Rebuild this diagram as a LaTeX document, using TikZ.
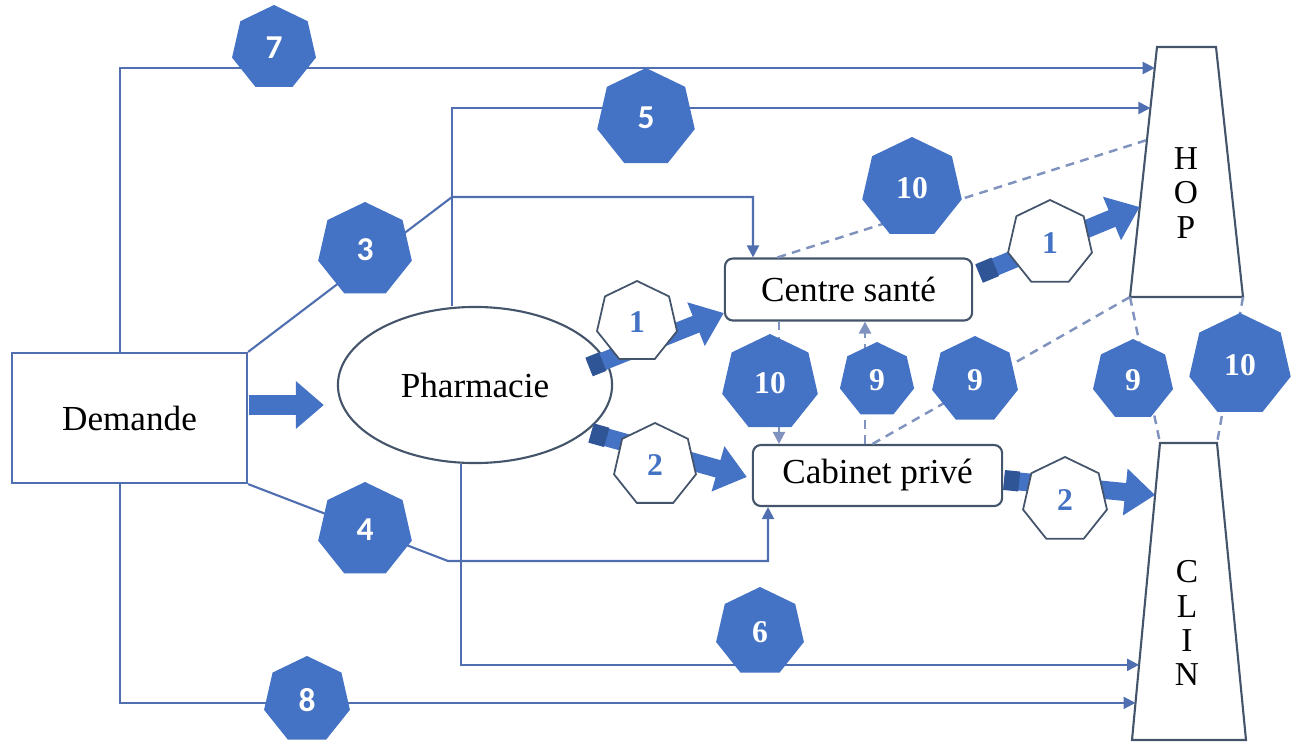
\documentclass[tikz,border=0pt]{standalone}
\usepackage{fontspec}
\setmainfont{Liberation Serif}
\newfontfamily\carlito{Carlito}
\usepackage{xcolor}
\definecolor{FlowBlue}{HTML}{4472C4}
\definecolor{FlowDark}{HTML}{2F5597}
\definecolor{FlowLine}{HTML}{4F6FB0}
\definecolor{FlowDash}{HTML}{8093BE}
\definecolor{FlowEdge}{HTML}{44546A}
\usepackage{tikz}
\usetikzlibrary{calc, positioning, arrows.meta, shapes.geometric}

\begin{document}
\begin{tikzpicture}[
    x=0.01cm, y=-0.01cm,
    font=\fontsize{10}{12}\selectfont,
    >={Triangle[length=0.12cm, width=0.12cm]},
    box_plain/.style={draw=FlowLine, line width=0.6pt, minimum width=2.35cm, minimum height=1.3cm},
    box_round/.style={draw=FlowEdge, line width=0.6pt, rounded corners=0.08cm},
    tower/.style={draw=FlowEdge, line width=0.6pt},
    tower_text/.style={align=center, font=\fontsize{9.5}{9.7}\selectfont},
    hepta/.style={regular polygon, regular polygon sides=7, inner sep=0pt, fill=FlowBlue, text=white, font=\bfseries\fontsize{9}{10}\selectfont},
    hepta_sans/.style={hepta, font=\carlito\bfseries\fontsize{9.5}{10}\selectfont},
    hepta_white/.style={hepta, fill=white, draw=FlowEdge, line width=0.5pt, text=FlowBlue},
    link/.style={->, FlowLine, line width=0.6pt},
    link_dash/.style={FlowDash, line width=0.7pt, dash pattern=on 2.5pt off 1.8pt},
    fat/.style={FlowBlue, line width=0.18cm, -{Triangle[length=0.3cm, width=0.45cm]}},
    fat_tail/.style={FlowDark, line width=0.2cm}
]
    \useasboundingbox (0,0) rectangle (1297,742);

    % 1. MAIN NODES
    \node[box_plain] (dem) at (129.5,418) {Demande};
    \node[draw=FlowEdge, line width=0.6pt, ellipse, minimum width=2.74cm, minimum height=1.56cm] (ph) at (475,385) {Pharmacie};
    \node[box_round, minimum width=2.47cm, minimum height=0.62cm] (cs) at (848.5,289.5) {Centre santé};
    \node[box_round, minimum width=2.49cm, minimum height=0.61cm] (cp) at (877.5,475.5) {Cabinet privé};

    % 2. HOSPITAL / CLINIC TOWERS
    \coordinate (hopTL) at (1157,47);
    \coordinate (hopTR) at (1216,47);
    \coordinate (hopBR) at (1243,297);
    \coordinate (hopBL) at (1130,297);
    \draw[tower] (hopTL) -- (hopTR) -- (hopBR) -- (hopBL) -- cycle;
    \node[tower_text] (hoptxt) at (1186,193) {H\\O\\P};
    \coordinate (clinTL) at (1160,443);
    \coordinate (clinTR) at (1217,443);
    \coordinate (clinBR) at (1246,740);
    \coordinate (clinBL) at (1132,740);
    \draw[tower] (clinTL) -- (clinTR) -- (clinBR) -- (clinBL) -- cycle;
    \node[tower_text] (clintxt) at (1187,623) {C\\L\\I\\N};

    % 3. THIN LINKS (3 to 8)
    \draw[link] ($(dem.north)+(-9.5,0)$) |- ($(hopTL)!0.084!(hopBL)$);
    \draw[link] ($(ph.north)+(-23,0)$) |- ($(hopTL)!0.244!(hopBL)$);
    \draw[link] (dem.north east) -- (452,197) -| ($(cs.north)+(-95.5,0)$);
    \draw[link] (dem.south east) -- (448,561) -| ($(cp.south)+(-109.5,0)$);
    \draw[link] ($(ph.south)+(-14,0)$) |- ($(clinTL)!0.747!(clinBL)$);
    \draw[link] ($(dem.south)+(-9.5,0)$) |- ($(clinTL)!0.875!(clinBL)$);

    % 4. DASHED LINKS (9 and 10)
    \draw[link_dash] ($(cs.north)+(-71,0)$) -- ($(hopTL)!0.372!(hopBL)$);
    \draw[link_dash, ->] ($(cs.south)+(-69.5,0)$) -- ($(cp.north)+(-98.5,0)$);
    \draw[link_dash, ->] ($(cp.north)+(-12.5,0)$) -- ($(cs.south)+(16.5,0)$);
    \draw[link_dash] ($(cp.north)+(-5,0)$) -- (hopBL);
    \draw[link_dash] (hopBL) -- (clinTL);
    \draw[link_dash] (hopBR) -- (clinTR);

    % 5. BLOCK ARROWS (1 and 2)
    \draw[fat, line width=0.2cm, -{Triangle[length=0.28cm, width=0.46cm]}] ($(dem.east)+(1,-13)$) -- ($(ph.west)+(-13,20)$);
    \coordinate (t1a) at ($(ph.east)+(-24,-18)$);
    \coordinate (h1a) at ($(cs.west)+(0,23.5)$);
    \coordinate (t2a) at ($(ph.east)+(-22,48)$);
    \coordinate (h2a) at ($(cp.west)+(-5,1.5)$);
    \coordinate (t1b) at ($(cs.east)+(6,-16)$);
    \coordinate (h1b) at ($(hopTL)!0.64!(hopBL)$);
    \coordinate (t2b) at ($(cp.east)+(1,4.5)$);
    \coordinate (h2b) at ($(clinTL)!0.175!(clinBL)$);
    \foreach \a/\b in {t1a/h1a, t2a/h2a, t1b/h1b, t2b/h2b} {
        \draw[fat] (\a) -- (\b);
        \draw[fat_tail] (\a) -- ($(\a)!0.1!(\b)$);
    }

    % 6. HEPTAGON TAGS
    \node[hepta_sans, minimum size=0.86cm] (n7) at (274,48) {7};
    \node[hepta_sans, minimum size=1.0cm] (n5) at (646,118) {5};
    \node[hepta_sans, minimum size=0.96cm] (n3) at (365,250) {3};
    \node[hepta_sans, minimum size=0.96cm] (n4) at (365,530) {4};
    \node[hepta, minimum size=0.9cm] (n6) at (760,632) {6};
    \node[hepta_sans, minimum size=0.88cm] (n8) at (307,700) {8};
    \node[hepta, minimum size=1.02cm] (n10a) at (912,188) {10};
    \node[hepta, minimum size=0.98cm] (n10b) at (770,383) {10};
    \node[hepta, minimum size=0.76cm] (n9a) at (877,380) {9};
    \node[hepta, minimum size=0.88cm] (n9b) at (975,380) {9};
    \node[hepta, minimum size=0.82cm] (n9c) at (1133,380) {9};
    \node[hepta, minimum size=1.04cm] (n10c) at (1240,365) {10};
    \node[hepta_white, minimum size=0.82cm] (n1a) at (637,322) {1};
    \node[hepta_white, minimum size=0.84cm] (n2a) at (655,465) {2};
    \node[hepta_white, minimum size=0.86cm] (n1b) at (1050,243) {1};
    \node[hepta_white, minimum size=0.86cm] (n2b) at (1065,500) {2};
\end{tikzpicture}
\end{document}
